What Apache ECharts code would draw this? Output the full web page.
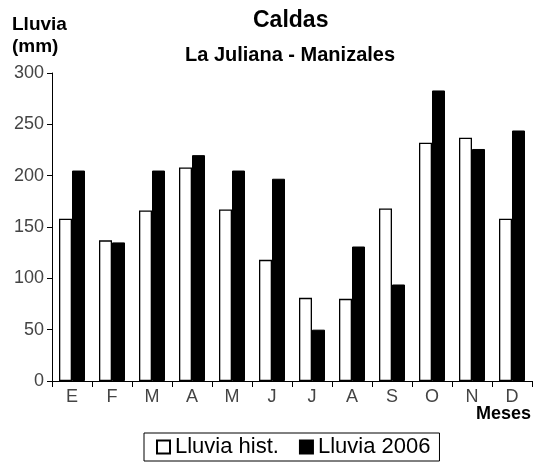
<!DOCTYPE html>
<html>
<head>
<meta charset="utf-8">
<script src="https://cdn.jsdelivr.net/npm/echarts@6/dist/echarts.min.js"></script>
<style>
html,body{margin:0;padding:0;background:#fff;}
#c{width:534px;height:464px;}
</style>
</head>
<body>
<div id="c"></div>
<script>
var months = ['E','F','M','A','M','J','J','A','S','O','N','D'];
var lluviaHist = [158, 137, 166, 208, 167, 118, 81, 80, 168, 232, 237, 158];
var lluvia2006 = [205, 135, 205, 220, 205, 197, 50, 131, 94, 283, 226, 244];
var yTicks = [0, 50, 100, 150, 200, 250, 300];

var FONT = '"Liberation Sans", Arial, sans-serif';
var chart = echarts.init(document.getElementById('c'), null, {renderer: 'canvas'});
chart.setOption({
  animation: false,
  backgroundColor: '#fff',
  title: [
    {text: 'Caldas', left: 253, top: 9, padding: 0,
     textStyle: {fontFamily: FONT, fontSize: 23, fontWeight: 'bold', color: '#000'}},
    {text: 'La Juliana - Manizales', left: 185, top: 45, padding: 0,
     textStyle: {fontFamily: FONT, fontSize: 20, fontWeight: 'bold', color: '#000'}},
    {text: 'Lluvia\n(mm)', left: 12, top: 14, padding: 0,
     textStyle: {fontFamily: FONT, fontSize: 19, fontWeight: 'bold', color: '#000', lineHeight: 22}},
    {text: 'Meses', right: 3, top: 405, padding: 0,
     textStyle: {fontFamily: FONT, fontSize: 18, fontWeight: 'bold', color: '#000'}}
  ],
  legend: {
    left: 144, top: 433,
    padding: [3, 9, 3, 12],
    borderColor: '#000', borderWidth: 1,
    itemWidth: 13, itemHeight: 13, itemGap: 20,
    icon: 'rect',
    textStyle: {fontFamily: FONT, fontSize: 22, color: '#000'},
    data: ['Lluvia hist.', 'Lluvia 2006']
  },
  grid: {left: 52, right: 2, top: 73, bottom: 83, containLabel: false},
  xAxis: {
    type: 'category',
    data: months,
    axisLine: {lineStyle: {color: '#000', width: 1}},
    axisTick: {show: true, length: 6, lineStyle: {color: '#000'}},
    axisLabel: {fontFamily: FONT, fontSize: 18, color: '#444', margin: 7}
  },
  yAxis: {
    type: 'value',
    min: yTicks[0], max: yTicks[yTicks.length - 1], interval: yTicks[1] - yTicks[0],
    axisLine: {show: true, lineStyle: {color: '#000', width: 1}},
    axisTick: {show: true, length: 5, lineStyle: {color: '#000'}},
    splitLine: {show: false},
    axisLabel: {fontFamily: FONT, fontSize: 18, color: '#444', margin: 8}
  },
  series: [
    {name: 'Lluvia hist.', type: 'bar', data: lluviaHist, barWidth: 13, barGap: '0%',
     itemStyle: {color: '#fff', borderColor: '#000', borderWidth: 1.3}},
    {name: 'Lluvia 2006', type: 'bar', data: lluvia2006, barWidth: 13,
     itemStyle: {color: '#000', borderColor: '#000', borderWidth: 1}}
  ]
});
</script>
</body>
</html>
